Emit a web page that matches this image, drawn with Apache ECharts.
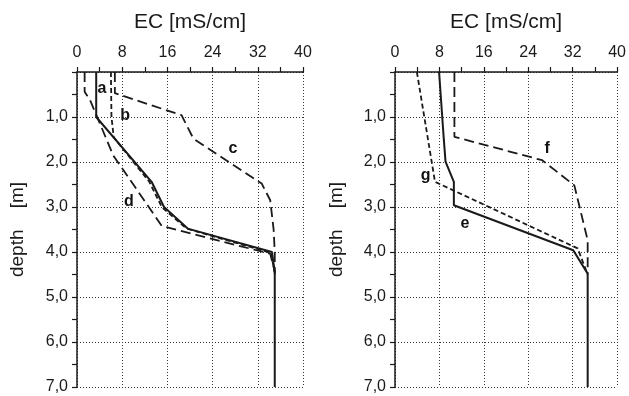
<!DOCTYPE html>
<html><head><meta charset="utf-8">
<script src="https://cdn.jsdelivr.net/npm/echarts@6/dist/echarts.min.js"></script>
<style>html,body{margin:0;padding:0;background:#fff}#c{width:629px;height:396px}</style>
</head><body><div id="c"></div>
<script>
// Left panel curves (EC in mS/cm vs depth in m)
const aDepth = [0, 1.0, 2.44, 3.0, 3.48, 4.0, 4.45, 7.0];
const aEC    = [3.4, 3.4, 13.2, 15.4, 19.6, 34.5, 35, 35];
const bDepth = [0, 1.0, 1.45, 2.44, 3.0, 3.48, 4.02, 4.45];
const bEC    = [6.0, 6.1, 6.5, 12.8, 15.0, 19.4, 34.3, 35];
const cDepth = [0, 0.47, 0.96, 1.48, 2.48, 2.85, 3.5, 4.0, 4.5];
const cEC    = [6.7, 6.7, 18.5, 20.6, 32.7, 34.2, 34.8, 35, 35];
const dDepth = [0, 0.44, 0.62, 1.85, 3.42, 4.04, 4.44];
const dEC    = [1.35, 1.35, 2.3, 6.4, 15.0, 34.2, 35];
// Right panel curves
const eDepth = [0, 0.99, 1.51, 1.99, 2.44, 2.96, 3.96, 4.48, 7.0];
const eEC    = [7.94, 8.5, 8.8, 9.1, 10.6, 10.6, 32.1, 34.7, 34.7];
const fDepth = [0, 1.44, 1.96, 2.52, 3.74, 4.47];
const fEC    = [10.7, 10.7, 26.5, 32.3, 34.7, 34.7];
const gDepth = [0, 2.44, 3.92, 4.5];
const gEC    = [3.94, 7.2, 32.9, 34.7];
// Curve letter annotations: [letter, EC, depth]
const leftLabels  = [['a', 4.4, 0.37], ['b', 8.5, 0.96], ['c', 27.6, 1.70], ['d', 9.2, 2.89]];
const rightLabels = [['f', 27.4, 1.70], ['g', 5.5, 2.30], ['e', 12.6, 3.37]];
const xTitle = 'EC [mS/cm]';
const yTitle = 'depth    [m]';

const FONT = 'Liberation Sans, Arial, sans-serif';
const INK = '#1a1a1a';
const pts = (ec, dp) => ec.map((v, i) => [v, dp[i]]);

function xAxis(gi) {
  return {
    type: 'value', gridIndex: gi, position: 'top', min: 0, max: 40, interval: 8,
    name: xTitle, nameLocation: 'middle', nameGap: 39,
    nameTextStyle: { fontFamily: FONT, fontSize: 21, color: INK },
    axisLine: { show: true, onZero: false, lineStyle: { color: INK, width: 1.5 } },
    axisTick: { show: true, inside: false, length: 5, lineStyle: { color: INK, width: 1.2 } },
    minorTick: { show: true, splitNumber: 2, length: 5, lineStyle: { color: INK, width: 1.2 } },
    axisLabel: { fontFamily: FONT, fontSize: 16, color: INK, margin: 11 },
    splitLine: { show: true, lineStyle: { color: '#333', width: 1, type: [1, 2] } }
  };
}
function yAxis(gi, gap) {
  return {
    type: 'value', gridIndex: gi, inverse: true, min: 0, max: 7, interval: 1,
    name: yTitle, nameLocation: 'middle', nameGap: gap, nameRotate: 90,
    nameTextStyle: { fontFamily: FONT, fontSize: 19, color: INK },
    axisLine: { show: true, onZero: false, lineStyle: { color: INK, width: 1.5 } },
    axisTick: { show: true, inside: false, length: 5, lineStyle: { color: INK, width: 1.2 } },
    minorTick: { show: true, splitNumber: 2, length: 5, lineStyle: { color: INK, width: 1.2 } },
    axisLabel: { fontFamily: FONT, fontSize: 16, color: INK, margin: 9,
      formatter: v => v === 0 ? '' : v.toFixed(1).replace('.', ',') },
    splitLine: { show: true, lineStyle: { color: '#333', width: 1, type: [1, 2] } }
  };
}
function line(ec, dp, gi, dash) {
  return {
    type: 'line', xAxisIndex: gi, yAxisIndex: gi, data: pts(ec, dp),
    symbol: 'none', silent: true, animation: false,
    lineStyle: { color: INK, width: dash === 'solid' ? 2 : 1.8, type: dash }
  };
}
function labels(arr, gi) {
  return {
    type: 'scatter', xAxisIndex: gi, yAxisIndex: gi, symbolSize: 1, silent: true, animation: false,
    itemStyle: { opacity: 0, color: INK },
    data: arr.map(l => ({ value: [l[1], l[2]], name: l[0] })),
    label: { show: true, position: 'inside', formatter: p => p.name,
      fontFamily: FONT, fontSize: 16, fontWeight: 'bold', color: '#111', opacity: 1 }
  };
}

const chart = echarts.init(document.getElementById('c'), null, { renderer: 'canvas' });
chart.setOption({
  backgroundColor: '#fff',
  animation: false,
  grid: [
    { left: 77, top: 72, width: 226, height: 315 },
    { left: 395, top: 72, width: 227, height: 315 }
  ],
  xAxis: [xAxis(0), xAxis(1)],
  yAxis: [yAxis(0, 50), yAxis(1, 49)],
  series: [
    line(aEC, aDepth, 0, 'solid'),
    line(bEC, bDepth, 0, [5, 3]),
    line(cEC, cDepth, 0, [10, 5]),
    line(dEC, dDepth, 0, [10, 5]),
    line(eEC, eDepth, 1, 'solid'),
    line(fEC, fDepth, 1, [10, 5]),
    line(gEC, gDepth, 1, [5, 3]),
    labels(leftLabels, 0),
    labels(rightLabels, 1)
  ]
});
</script></body></html>
